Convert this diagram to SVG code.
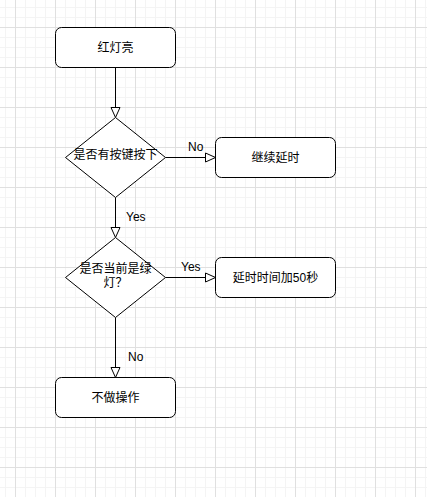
<svg xmlns="http://www.w3.org/2000/svg" width="427" height="497" viewBox="0 0 427 497">
  <style>
    .shape { fill: #ffffff; stroke: #000000; stroke-width: 1; }
    .edge { fill: none; stroke: #000000; stroke-width: 1; }
    .head { fill: #ffffff; stroke: #000000; stroke-width: 1; }
    .t { font-family: "Liberation Sans", "Noto Sans CJK SC", sans-serif; font-size: 12px; fill: #000000; }
    .c { text-anchor: middle; }
  </style>
  <defs>
    <pattern id="grid" patternUnits="userSpaceOnUse" x="15" y="27" width="40" height="40">
      <rect x="0" y="0" width="40" height="40" fill="#ffffff"/>
      <rect x="10" y="0" width="1" height="40" fill="#f4f4f4"/>
      <rect x="20" y="0" width="1" height="40" fill="#f4f4f4"/>
      <rect x="30" y="0" width="1" height="40" fill="#f4f4f4"/>
      <rect x="0" y="10" width="40" height="1" fill="#f4f4f4"/>
      <rect x="0" y="20" width="40" height="1" fill="#f4f4f4"/>
      <rect x="0" y="30" width="40" height="1" fill="#f4f4f4"/>
      <rect x="0" y="0" width="1" height="40" fill="#e0e0e0"/>
      <rect x="0" y="0" width="40" height="1" fill="#e0e0e0"/>
    </pattern>
  </defs>
  <rect x="0" y="0" width="427" height="497" fill="url(#grid)"/>

  <g id="connectors">
    <path class="edge" d="M115.5 67.5 V107.5"/>
    <polygon class="head" points="111,107.5 120,107.5 115.5,117.5"/>
    <path class="edge" d="M165.5 157.5 H205.5"/>
    <polygon class="head" points="205.5,153 205.5,162 215.5,157.5"/>
    <path class="edge" d="M115.5 197.5 V227.5"/>
    <polygon class="head" points="111,227.5 120,227.5 115.5,237.5"/>
    <path class="edge" d="M165.5 277.5 H205.5"/>
    <polygon class="head" points="205.5,273 205.5,282 215.5,277.5"/>
    <path class="edge" d="M115.5 317.5 V367.5"/>
    <polygon class="head" points="111,367.5 120,367.5 115.5,377.5"/>
    <text class="t" x="188" y="151">No</text>
    <text class="t" x="126" y="221">Yes</text>
    <text class="t" x="181" y="271">Yes</text>
    <text class="t" x="128" y="361">No</text>
  </g>

  <g id="node-red-light">
    <rect class="shape" x="55.5" y="27.5" width="120" height="40" rx="6" ry="6"/>
    <text class="t c" x="115.5" y="51.5">红灯亮</text>
  </g>
  <g id="node-key-pressed">
    <polygon class="shape" points="115.5,117.5 165.5,157.5 115.5,197.5 65.5,157.5"/>
    <text class="t c" x="115.5" y="159">是否有按键按下</text>
  </g>
  <g id="node-continue-delay">
    <rect class="shape" x="215.5" y="137.5" width="120" height="40" rx="6" ry="6"/>
    <text class="t c" x="275.5" y="161.5">继续延时</text>
  </g>
  <g id="node-is-green">
    <polygon class="shape" points="115.5,237.5 165.5,277.5 115.5,317.5 65.5,277.5"/>
    <text class="t c" x="115.5" y="272.5">是否当前是绿</text>
    <text class="t c" x="115.5" y="286.5">灯？</text>
  </g>
  <g id="node-add-delay">
    <rect class="shape" x="215.5" y="257.5" width="120" height="40" rx="6" ry="6"/>
    <text class="t c" x="275.5" y="281.5">延时时间加50秒</text>
  </g>
  <g id="node-no-op">
    <rect class="shape" x="55.5" y="377.5" width="120" height="40" rx="6" ry="6"/>
    <text class="t c" x="115.5" y="401.5">不做操作</text>
  </g>
</svg>
